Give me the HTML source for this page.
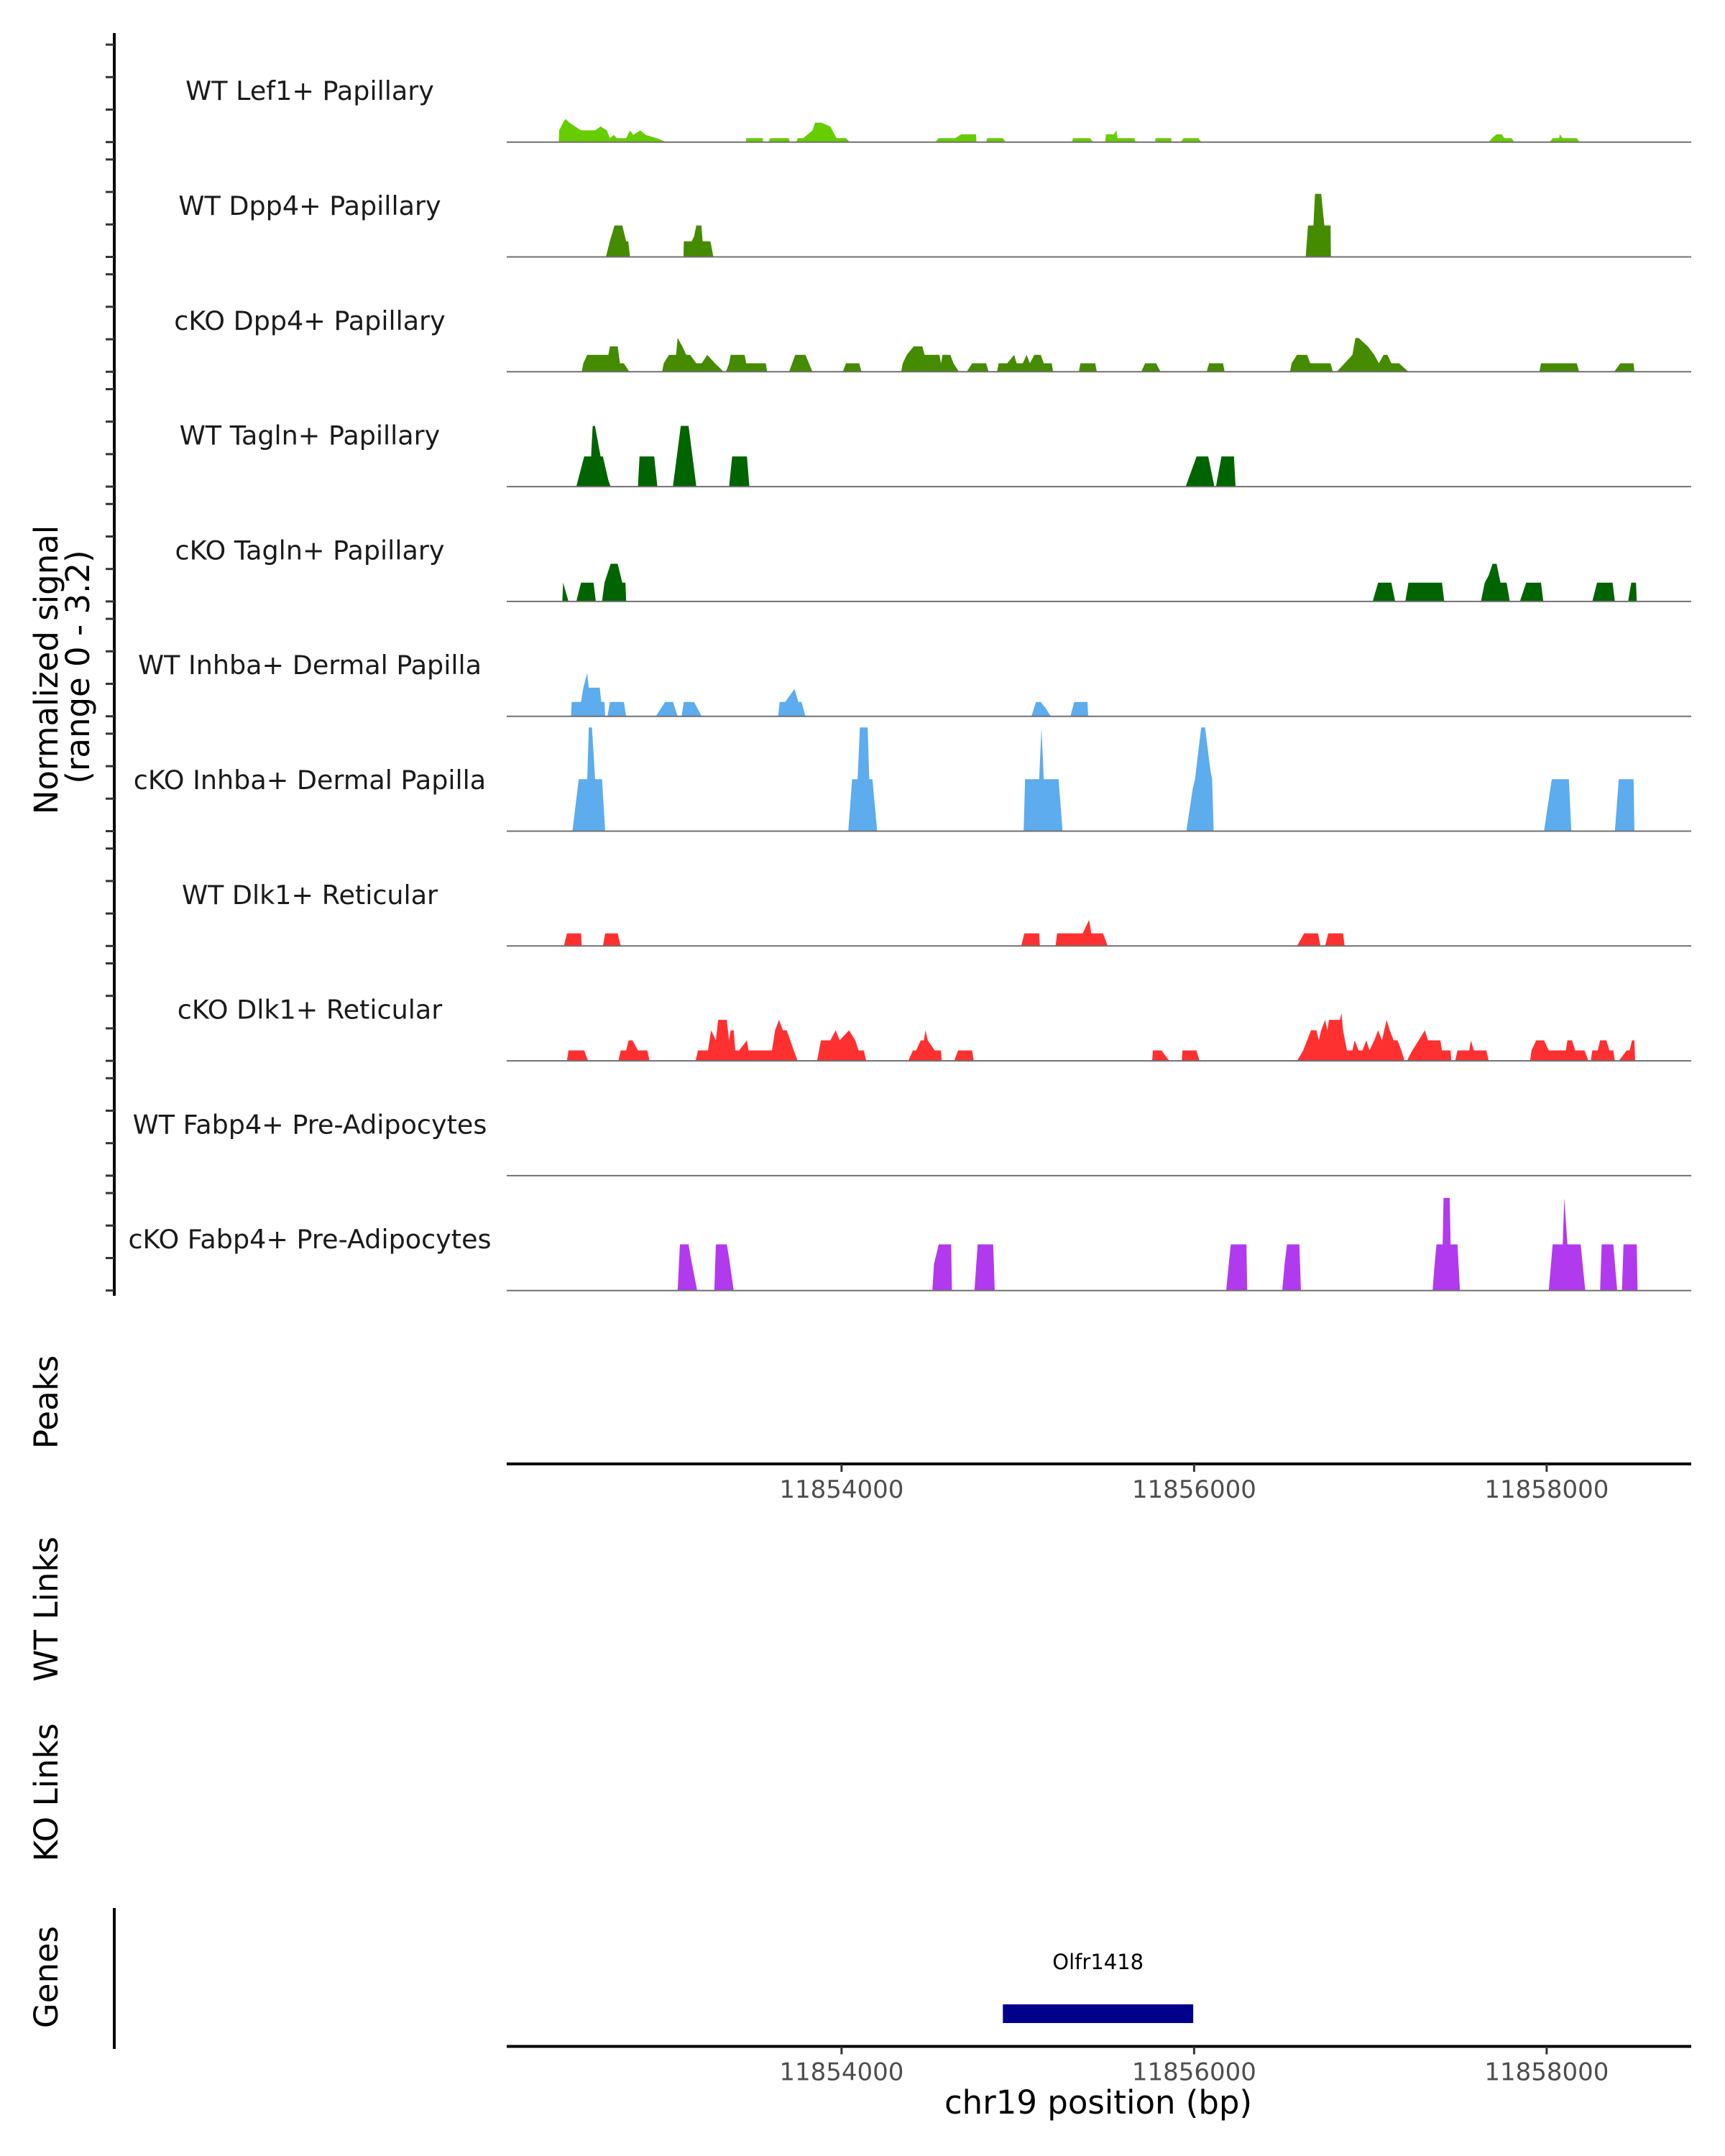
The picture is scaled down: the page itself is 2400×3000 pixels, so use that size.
<!DOCTYPE html>
<html><head><meta charset="utf-8"><style>
html,body{margin:0;padding:0;background:#fff;}
svg{display:block;}
text{font-family:"DejaVu Sans","Liberation Sans",sans-serif;}
</style></head><body>
<svg id="chart" xmlns="http://www.w3.org/2000/svg" width="2400" height="3000" viewBox="0 0 2400 3000"></svg>
<script>
const trackNames = ["WT Lef1+ Papillary","WT Dpp4+ Papillary","cKO Dpp4+ Papillary","WT Tagln+ Papillary","cKO Tagln+ Papillary","WT Inhba+ Dermal Papilla","cKO Inhba+ Dermal Papilla","WT Dlk1+ Reticular","cKO Dlk1+ Reticular","WT Fabp4+ Pre-Adipocytes","cKO Fabp4+ Pre-Adipocytes"];
const trackColors = ["#66CD00","#458B00","#458B00","#006400","#006400","#5CACEE","#5CACEE","#FF3030","#FF3030","#B23AEE","#B23AEE"];
const xTicks = [11854000,11856000,11858000];
const xTickLabels = ["11854000","11856000","11858000"];
const yTicks = [0,1,2,3];
const geneName = "Olfr1418";
const geneStart = 11854915, geneEnd = 11855995;

const lef1WT = [[11852396,0],[11852398,0.36],[11852420,0.6],[11852434,0.71],[11852456,0.6],[11852522,0.36],[11852602,0.36],[11852633,0.48],[11852668,0.36],[11852686,0.12],[11852708,0.22],[11852725,0.12],[11852778,0.12],[11852800,0.36],[11852818,0.22],[11852858,0.36],[11852889,0.22],[11852951,0.12],[11853008,0],
[11853457,0],[11853459,0.12],[11853553,0.12],[11853555,0],
[11853585,0],[11853595,0.12],[11853700,0.12],[11853707,0],
[11853742,0],[11853752,0.12],[11853782,0.12],[11853804,0.22],[11853835,0.36],[11853850,0.6],[11853883,0.6],[11853936,0.48],[11853972,0.12],[11854025,0.12],[11854047,0],
[11854533,0],[11854550,0.12],[11854644,0.12],[11854679,0.24],[11854763,0.24],[11854765,0],
[11854820,0],[11854826,0.12],[11854915,0.12],[11854931,0],
[11855307,0],[11855313,0.12],[11855410,0.12],[11855426,0],
[11855495,0],[11855500,0.24],[11855545,0.24],[11855559,0.36],[11855565,0.12],[11855660,0.12],[11855669,0],
[11855778,0],[11855782,0.12],[11855870,0.12],[11855872,0],
[11855925,0],[11855940,0.12],[11856025,0.12],[11856040,0],
[11857671,0],[11857690,0.12],[11857715,0.24],[11857745,0.24],[11857760,0.12],[11857800,0.12],[11857817,0],
[11858016,0],[11858035,0.12],[11858070,0.12],[11858076,0.24],[11858090,0.12],[11858170,0.12],[11858188,0]];

const dpp4WT = [[11852663,0],[11852685,0.48],[11852712,0.97],[11852756,0.97],[11852778,0.48],[11852790,0.48],[11852800,0],
[11853103,0],[11853105,0.48],[11853150,0.48],[11853163,0.63],[11853176,0.97],[11853205,0.97],[11853212,0.48],[11853256,0.48],[11853273,0],
[11856633,0],[11856646,0.97],[11856677,0.97],[11856680,1.35],[11856686,1.94],[11856721,1.94],[11856739,0.97],[11856774,0.97],[11856776,0]];

const dpp4KO = [[11852526,0],[11852535,0.26],[11852557,0.52],[11852677,0.52],[11852686,0.78],[11852730,0.78],[11852743,0.26],[11852765,0.26],[11852796,0],
[11852982,0],[11852991,0.26],[11853021,0.52],[11853061,0.52],[11853070,1.04],[11853097,0.78],[11853119,0.52],[11853141,0.52],[11853176,0.26],[11853207,0.26],[11853238,0.52],[11853282,0.26],[11853331,0],
[11853344,0],[11853362,0.26],[11853371,0.52],[11853450,0.52],[11853459,0.26],[11853570,0.26],[11853578,0],
[11853702,0],[11853737,0.52],[11853795,0.52],[11853835,0],
[11854007,0],[11854025,0.26],[11854100,0.26],[11854113,0],
[11854338,0],[11854347,0.26],[11854370,0.52],[11854409,0.78],[11854458,0.78],[11854471,0.52],[11854555,0.52],[11854564,0.26],[11854573,0.52],[11854617,0.52],[11854635,0.26],[11854666,0],
[11854710,0],[11854741,0.26],[11854820,0.26],[11854834,0],
[11854882,0],[11854891,0.26],[11854940,0.26],[11854979,0.52],[11854993,0.26],[11855028,0.26],[11855050,0.52],[11855068,0.26],[11855094,0.52],[11855130,0.52],[11855147,0.26],[11855192,0.26],[11855200,0],
[11855346,0],[11855355,0.26],[11855439,0.26],[11855448,0],
[11855700,0],[11855722,0.26],[11855784,0.26],[11855810,0],
[11856071,0],[11856085,0.26],[11856164,0.26],[11856173,0],
[11856544,0],[11856553,0.26],[11856584,0.52],[11856641,0.52],[11856659,0.26],[11856774,0.26],[11856787,0],
[11856809,0],[11856854,0.26],[11856898,0.52],[11856915,1.04],[11856933,1.04],[11856986,0.78],[11857022,0.52],[11857048,0.26],[11857075,0.52],[11857097,0.52],[11857119,0.26],[11857163,0.26],[11857216,0],
[11857959,0],[11857968,0.26],[11858171,0.26],[11858184,0],
[11858383,0],[11858418,0.26],[11858493,0.26],[11858498,0]];

const taglnWT = [[11852495,0],[11852540,0.93],[11852579,0.93],[11852588,1.87],[11852601,1.87],[11852633,0.93],[11852646,0.93],[11852677,0.2],[11852690,0],
[11852845,0],[11852854,0.93],[11852937,0.93],[11852955,0],
[11853043,0],[11853088,1.87],[11853132,1.87],[11853176,0],
[11853362,0],[11853379,0.93],[11853463,0.93],[11853477,0],
[11855952,0],[11856014,0.93],[11856080,0.93],[11856115,0],
[11856124,0],[11856155,0.93],[11856226,0.93],[11856235,0]];

const taglnKO = [[11852416,0],[11852420,0.58],[11852451,0],
[11852495,0],[11852522,0.58],[11852593,0.58],[11852606,0],
[11852641,0],[11852655,0.58],[11852690,1.16],[11852730,1.16],[11852756,0.58],[11852774,0.58],[11852778,0],
[11857013,0],[11857044,0.58],[11857119,0.58],[11857141,0],
[11857198,0],[11857216,0.58],[11857406,0.58],[11857419,0],
[11857627,0],[11857649,0.58],[11857671,0.8],[11857693,1.16],[11857716,1.16],[11857738,0.58],[11857773,0.58],[11857791,0],
[11857848,0],[11857884,0.58],[11857968,0.58],[11857981,0],
[11858259,0],[11858286,0.58],[11858374,0.58],[11858387,0],
[11858462,0],[11858480,0.58],[11858507,0.58],[11858511,0]];

const inhbaWT = [[11852465,0],[11852469,0.44],[11852522,0.44],[11852535,0.88],[11852557,1.33],[11852566,0.88],[11852628,0.88],[11852637,0.44],[11852655,0.44],[11852659,0],
[11852672,0],[11852686,0.44],[11852765,0.44],[11852778,0],
[11852946,0],[11852999,0.44],[11853044,0.44],[11853070,0],
[11853092,0],[11853105,0.44],[11853163,0.44],[11853207,0],
[11853640,0],[11853649,0.44],[11853680,0.44],[11853733,0.84],[11853755,0.44],[11853773,0.44],[11853795,0],
[11855077,0],[11855103,0.44],[11855130,0.44],[11855156,0.26],[11855187,0],
[11855298,0],[11855320,0.44],[11855395,0.44],[11855399,0]];

const inhbaKO = [[11852473,0],[11852509,1.6],[11852557,1.6],[11852566,3.19],[11852584,3.19],[11852602,1.6],[11852641,1.6],[11852659,0],
[11854038,0],[11854060,1.6],[11854091,1.6],[11854104,3.19],[11854148,3.19],[11854157,1.6],[11854175,1.6],[11854202,0],
[11855033,0],[11855041,1.6],[11855121,1.6],[11855134,3.19],[11855147,1.6],[11855231,1.6],[11855254,0],
[11855956,0],[11855992,1.3],[11856005,1.6],[11856040,3.19],[11856062,3.19],[11856093,1.85],[11856102,1.6],[11856111,0],
[11857985,0],[11858029,1.6],[11858126,1.6],[11858140,0],
[11858387,0],[11858409,1.6],[11858493,1.6],[11858498,0]];

const dlk1WT = [[11852425,0],[11852442,0.39],[11852522,0.39],[11852526,0],
[11852646,0],[11852659,0.39],[11852730,0.39],[11852747,0],
[11855019,0],[11855037,0.39],[11855121,0.39],[11855125,0],
[11855214,0],[11855223,0.39],[11855368,0.39],[11855404,0.8],[11855417,0.39],[11855483,0.39],[11855510,0],
[11856584,0],[11856624,0.39],[11856703,0.39],[11856717,0],
[11856743,0],[11856761,0.39],[11856845,0.39],[11856854,0]];

const dlk1KO = [[11852442,0],[11852451,0.32],[11852540,0.32],[11852562,0],
[11852734,0],[11852747,0.32],[11852778,0.32],[11852792,0.63],[11852814,0.63],[11852845,0.32],[11852898,0.32],[11852911,0],
[11853172,0],[11853185,0.32],[11853242,0.32],[11853260,0.94],[11853287,0.63],[11853300,1.26],[11853349,1.26],[11853362,0.63],[11853371,0.94],[11853388,0.94],[11853397,0.32],[11853419,0.32],[11853463,0.63],[11853472,0.32],[11853605,0.32],[11853623,0.94],[11853645,1.26],[11853667,0.94],[11853689,0.94],[11853729,0.32],[11853751,0],
[11853861,0],[11853883,0.63],[11853936,0.63],[11853967,0.94],[11853989,0.63],[11854042,0.94],[11854078,0.63],[11854096,0.32],[11854126,0.32],[11854140,0],
[11854378,0],[11854405,0.32],[11854423,0.32],[11854449,0.63],[11854467,0.63],[11854476,0.94],[11854489,0.63],[11854529,0.32],[11854564,0.32],[11854568,0],
[11854639,0],[11854661,0.32],[11854741,0.32],[11854750,0],
[11855762,0],[11855766,0.32],[11855815,0.32],[11855859,0],
[11855930,0],[11855934,0.32],[11856013,0.32],[11856031,0],
[11856584,0],[11856619,0.32],[11856641,0.63],[11856663,0.94],[11856694,0.94],[11856707,0.63],[11856721,0.94],[11856743,1.26],[11856756,0.94],[11856765,1.26],[11856827,1.26],[11856836,1.47],[11856845,0.94],[11856867,0.32],[11856898,0.32],[11856911,0.63],[11856933,0.32],[11856955,0.32],[11856977,0.63],[11856995,0.32],[11857022,0.63],[11857044,0.94],[11857066,0.63],[11857092,1.26],[11857110,0.94],[11857132,0.63],[11857154,0.63],[11857176,0.32],[11857194,0],
[11857207,0],[11857238,0.32],[11857274,0.63],[11857309,0.94],[11857327,0.63],[11857397,0.63],[11857406,0.32],[11857455,0.32],[11857459,0],
[11857481,0],[11857494,0.32],[11857561,0.32],[11857570,0.63],[11857587,0.32],[11857658,0.32],[11857671,0],
[11857906,0],[11857914,0.32],[11857941,0.63],[11857985,0.63],[11858012,0.32],[11858109,0.32],[11858118,0.63],[11858144,0.63],[11858162,0.32],[11858215,0.32],[11858237,0],
[11858250,0],[11858259,0.32],[11858290,0.32],[11858303,0.63],[11858339,0.63],[11858356,0.32],[11858378,0.32],[11858387,0],
[11858409,0],[11858454,0.32],[11858471,0.32],[11858484,0.63],[11858498,0.63],[11858502,0]];

const fabp4WT = [];

const fabp4KO = [[11853070,0],[11853083,1.42],[11853132,1.42],[11853145,1.0],[11853181,0],
[11853278,0],[11853287,1.42],[11853349,1.42],[11853362,1.0],[11853388,0],
[11854515,0],[11854524,0.8],[11854551,1.42],[11854622,1.42],[11854626,0],
[11854754,0],[11854772,1.42],[11854860,1.42],[11854869,0],
[11856182,0],[11856200,1.0],[11856208,1.42],[11856297,1.42],[11856301,0],
[11856500,0],[11856513,0.8],[11856527,1.42],[11856597,1.42],[11856606,0],
[11857353,0],[11857362,0.65],[11857375,1.42],[11857410,1.42],[11857415,2.85],[11857450,2.85],[11857455,1.42],[11857494,1.42],[11857508,0],
[11858012,0],[11858034,1.42],[11858091,1.42],[11858100,2.85],[11858118,1.42],[11858193,1.42],[11858219,0],
[11858303,0],[11858312,1.42],[11858378,1.42],[11858400,0],
[11858427,0],[11858436,1.42],[11858511,1.42],[11858516,0]];

const trackData = [lef1WT,dpp4WT,dpp4KO,taglnWT,taglnKO,inhbaWT,inhbaKO,dlk1WT,dlk1KO,fabp4WT,fabp4KO];

const NS = "http://www.w3.org/2000/svg";
const svg = document.getElementById('chart');
const X0 = 700, BP0 = 11852080, KX = 0.24525;
function xScale(bp){ return X0 + (bp - BP0) * KX; }
const BASE0 = 197.7, PANEL = 159.8, UNIT = 45.2;
function baseY(i){ return BASE0 + PANEL * i; }
function yScale(i, v){ return baseY(i) - v * UNIT; }
const TRACK_L = 705, TRACK_R = 2353;

function el(tag, attrs, parent){
  const e = document.createElementNS(NS, tag);
  for (const k in attrs) e.setAttribute(k, attrs[k]);
  (parent || svg).appendChild(e);
  return e;
}

const yAxis = el('line', {x1:159, x2:159, y1:46, y2:1803, stroke:'#000', 'stroke-width':4});



trackNames.forEach((name, i) => {
  const g = el('g', {});
  
  
  yTicks.forEach(t => {
    const tk = el('line', {x1:147, x2:159, y1:yScale(i,t), y2:yScale(i,t), stroke:'#333', 'stroke-width':3}, g);
    
    
  });
  const lab = el('text', {x:431, y:baseY(i) - 58.5, 'text-anchor':'middle', 'font-size':36.5, fill:'#1a1a1a'}, g);
  lab.textContent = name;
  
  
  const pts = trackData[i];
  if (pts.length) {
    let d = '';
    pts.forEach((p, j) => { d += (j ? 'L' : 'M') + xScale(p[0]).toFixed(1) + ',' + yScale(i, p[1]).toFixed(1); });
    d += 'Z';
    const area = el('path', {d:d, fill:trackColors[i], stroke:'none'}, g);
    
    
  }
  const bl = el('line', {x1:TRACK_L, x2:TRACK_R, y1:baseY(i), y2:baseY(i), stroke:'#707070', 'stroke-width':2}, g);
  
  
});

const yt = el('text', {transform:'translate(80,932) rotate(-90)', 'text-anchor':'middle', 'font-size':45, fill:'#000'});
yt.textContent = 'Normalized signal';


const yt2 = el('text', {transform:'translate(124,928) rotate(-90)', 'text-anchor':'middle', 'font-size':45, fill:'#000'});
yt2.textContent = '(range 0 - 3.2)';



[['Peaks',1951,'peaks-label'],['WT Links',2239,'wt-links-label'],['KO Links',2494,'ko-links-label'],['Genes',2751,'genes-label']].forEach(a => {
  const t = el('text', {transform:'translate(80,' + a[1] + ') rotate(-90)', 'text-anchor':'middle', 'font-size':45, fill:'#000'});
  t.textContent = a[0];
  
  
});

function xAxis(y, name){
  const ln = el('line', {x1:TRACK_L, x2:TRACK_R, y1:y, y2:y, stroke:'#000', 'stroke-width':4});
  
  
  xTicks.forEach((t, k) => {
    const tk = el('line', {x1:xScale(t), x2:xScale(t), y1:y, y2:y + 11, stroke:'#333', 'stroke-width':3});
    
    
    const tl = el('text', {x:xScale(t), y:y + 47, 'text-anchor':'middle', 'font-size':34, fill:'#4d4d4d'});
    tl.textContent = xTickLabels[k];
    
    
  });
}
xAxis(2037, 'peaks-x-axis');
xAxis(2847.5, 'genes-x-axis');

const ga = el('line', {x1:159, x2:159, y1:2655, y2:2851, stroke:'#000', 'stroke-width':4});



const gb = el('rect', {x:xScale(geneStart), y:2789, width:xScale(geneEnd) - xScale(geneStart), height:26, fill:'#00008B'});


const gl = el('text', {x:(xScale(geneStart) + xScale(geneEnd)) / 2, y:2740, 'text-anchor':'middle', 'font-size':29, fill:'#000'});
gl.textContent = geneName;



const xt = el('text', {x:1528, y:2941, 'text-anchor':'middle', 'font-size':45, fill:'#000'});
xt.textContent = 'chr19 position (bp)';


</script>
</body></html>
